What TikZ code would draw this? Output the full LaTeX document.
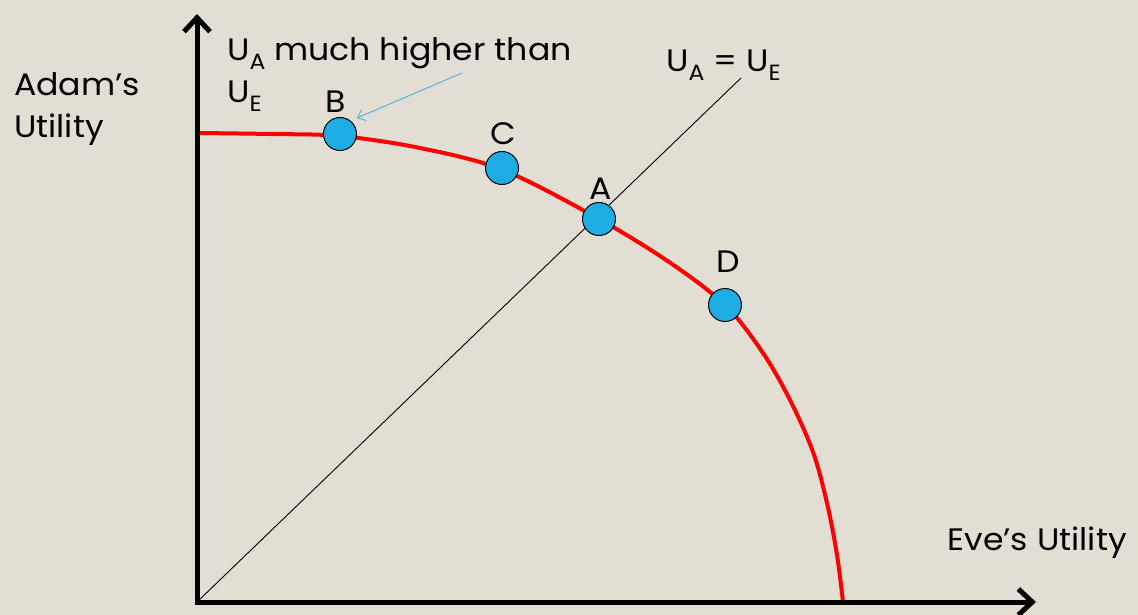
\documentclass[tikz,border=0pt]{standalone}
\usepackage{fontspec}
\setmainfont{Poppins}[FakeStretch=1.07]
\usetikzlibrary{arrows.meta}
\definecolor{bg}{HTML}{E3DED3}
\definecolor{dot}{HTML}{1EADE3}
\definecolor{arrowblue}{HTML}{3BB0E0}
\newcommand\mysub[1]{\raisebox{-9pt}{\fontsize{22}{22}\selectfont #1}}
\tikzset{
  axis/.style={line width=5pt, -{Straight Barb[length=14pt,width=26pt,line width=5pt]}},
  pt/.style={circle, draw=black, line width=1pt, fill=dot, minimum size=33pt, inner sep=0pt},
  lbl/.style={font=\fontsize{31}{37}\selectfont, text=black, inner sep=0pt},
  frontier/.style={red, line width=4pt},
}
\begin{document}
\begin{tikzpicture}[x=1pt,y=-1pt]
\fill[bg] (0,0) rectangle (1138,615);
\useasboundingbox (0,0) rectangle (1138,615);
\coordinate (O) at (197,602);
\coordinate (ytop) at (197,14);
\coordinate (xend) at (1036,602);
\coordinate (diagend) at (741,78);
% diagonal
\draw[line width=0.9pt] (O) -- (diagend);
% frontier
\draw[frontier] plot[smooth, tension=0.55] coordinates {(197,133) (270,134) (340,136) (420,148) (503,170) (599,219) (672,264) (726,306) (763,353) (790,400) (813,452) (827,503) (837,555) (843,602)};
% axes
\draw[axis] (197,604) -- (ytop);
\draw[axis] (195,602) -- (xend);
% points
\node[pt] (B) at (340,134) {};
\node[pt] (C) at (502,168) {};
\node[pt] (A) at (599,219) {};
\node[pt] (D) at (725,305) {};
\node[lbl, anchor=base] (Bl) at (336,113) {B};
\node[lbl, anchor=base] (Cl) at (503,145) {C};
\node[lbl, anchor=base] (Al) at (601,200) {A};
\node[lbl, anchor=base] (Dl) at (728,272) {D};
% labels
\node[lbl, anchor=base west] (adam) at (14,96) {Adam’s};
\node[lbl, anchor=base west] (adam2) at (14,138) {Utility};
\node[lbl, anchor=base east] (eve) at (1127,550) {Eve’s Utility};
\node[lbl, anchor=base west] (note) at (227,61) {U\mysub{A} much higher than};
\node[lbl, anchor=base west] (note2) at (227,103) {U\mysub{E}};
\node[lbl, anchor=base west] (eq) at (666,72) {U\mysub{A} = U\mysub{E}};
\coordinate (arrstart) at (462,73);
\draw[arrowblue, line width=0.8pt, -{Straight Barb[length=7pt,width=12pt]}] (arrstart) -- (357,118);
\end{tikzpicture}
\end{document}
